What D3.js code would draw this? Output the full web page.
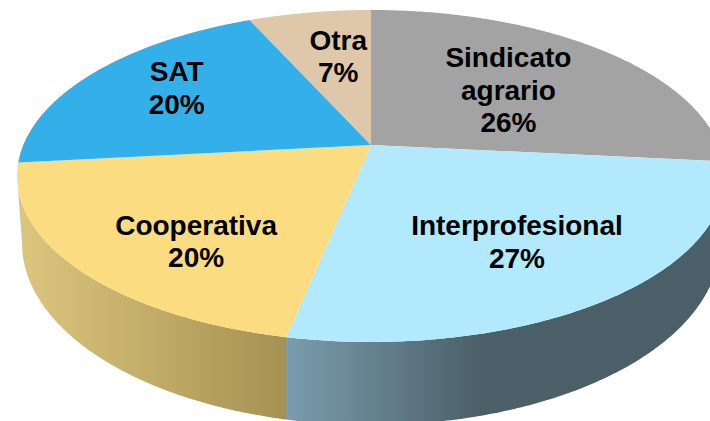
<!DOCTYPE html>
<html>
<head>
<meta charset="utf-8">
<style>html,body{margin:0;padding:0;background:#fff;overflow:hidden}svg{display:block}</style>
<script src="https://cdnjs.cloudflare.com/ajax/libs/d3/7.8.5/d3.min.js"></script>
</head>
<body>
<svg id="chart" width="710" height="421"></svg>
<script>
const categories = ["Sindicato agrario", "Interprofesional", "Cooperativa", "SAT", "Otra"];
const labelLines = [["Sindicato", "agrario"], ["Interprofesional"], ["Cooperativa"], ["SAT"], ["Otra"]];
const percentLabels = ["26%", "27%", "20%", "20%", "7%"];
const shares = [26.6, 26.6, 20.1, 20.0, 6.7];
const topColors = ["#a3a3a3", "#b3e9fc", "#fbdc80", "#33b0e9", "#dfc7a9"];
const sideStops = [
  [["#6e6e6e", 0], ["#6e6e6e", 1]],
  [["#7b9dae", 0], ["#4b5f68", 0.46], ["#4b5f68", 1]],
  [["#dcc67e", 0], ["#a59152", 1]],
  [["#2080b0", 0], ["#2080b0", 1]],
  [["#a08a70", 0], ["#a08a70", 1]]
];
const sideRanges = [[371, 725], [285, 710], [20, 285], [17, 250], [250, 371]];
const labelNudge = [[-6.5, 5], [10, 12], [-8, 26.5], [-23, -11.5], [6.5, -4]];

const W = 710, H = 421;
const apex = {x: 371, y: 145};
const TOP = 10, BOTTOM = 342;
const c = (2 * apex.y - TOP - BOTTOM) / (BOTTOM - TOP);
const a = BOTTOM * (1 + c) - apex.y;
const A = 347.7;
const ellipseCy = 176;
const base = {cx: 371, rx: 349, cy: 243, ry: 182};

function project(r, angle) {
  const u = r * Math.sin(angle), v = -r * Math.cos(angle);
  const w = 1 + c * v;
  return [apex.x + A * u / w, (a * v + apex.y) / w];
}
function baseOf(p) {
  const x = Math.max(base.cx - base.rx, Math.min(base.cx + base.rx, p[0]));
  const t = (x - base.cx) / base.rx;
  return [x, base.cy + base.ry * Math.sqrt(Math.max(0, 1 - t * t))];
}

const arcs = d3.pie().sort(null).value(d => d)(shares);
const svg = d3.select("#chart");
const defs = svg.append("defs");
const line = d3.line();

function samples(d) {
  return d3.range(0, 181).map(i => project(1, d.startAngle + (d.endAngle - d.startAngle) * i / 180));
}

arcs.forEach((d, i) => {
  const g = defs.append("linearGradient").attr("id", "side" + i)
    .attr("gradientUnits", "userSpaceOnUse")
    .attr("x1", sideRanges[i][0]).attr("x2", sideRanges[i][1]).attr("y1", 0).attr("y2", 0);
  sideStops[i].forEach(s => g.append("stop").attr("offset", s[1]).attr("stop-color", s[0]));
});

svg.append("g").selectAll("path").data(arcs).join("path")
  .attr("d", d => {
    const front = samples(d).filter(p => p[1] >= ellipseCy);
    if (front.length < 2) return null;
    return line(front.concat(front.map(baseOf).reverse())) + "Z";
  })
  .attr("fill", (d, i) => `url(#side${i})`);

svg.append("g").selectAll("path").data(arcs).join("path")
  .attr("d", d => line([[apex.x, apex.y]].concat(samples(d))) + "Z")
  .attr("fill", (d, i) => topColors[i]);

const labels = svg.append("g")
  .attr("font-family", "'Liberation Sans', Arial, sans-serif")
  .attr("font-weight", "bold").attr("font-size", 28)
  .attr("text-anchor", "middle").attr("fill", "#000");
const lh = 32.5;
arcs.forEach((d, i) => {
  const p = project(0.6, (d.startAngle + d.endAngle) / 2);
  const rows = labelLines[i].concat(percentLabels[i]);
  const x = p[0] + labelNudge[i][0], y = p[1] + labelNudge[i][1];
  rows.forEach((t, k) => {
    labels.append("text").attr("x", x)
      .attr("y", y + 9.5 + (k - (rows.length - 1) / 2) * lh)
      .text(t);
  });
});
</script>
</body>
</html>
